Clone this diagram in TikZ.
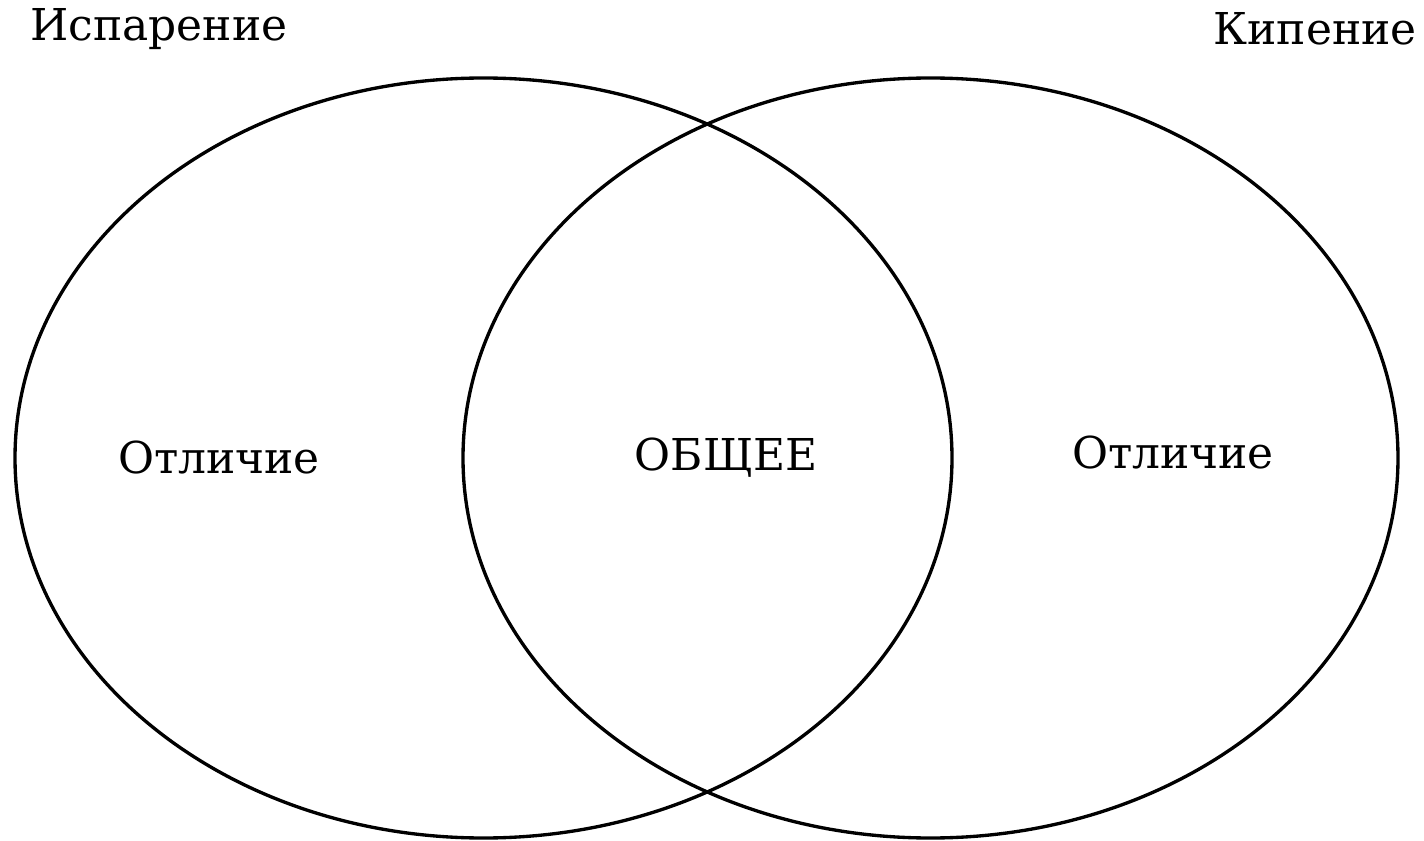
\documentclass[tikz,border=0pt]{standalone}
\usepackage{fontspec}
\setmainfont{DejaVu Serif}
\usepackage{tikz}
\usetikzlibrary{positioning}
\tikzset{
  ring/.style={line width=1.9pt},
  lbl/.style={inner sep=0pt,font=\fontsize{25}{30}\selectfont}
}

\begin{document}
\begin{tikzpicture}[x=0.02cm,y=-0.02cm]
  \useasboundingbox (0,0) rectangle (1424,841);

  % Two sets
  \draw[ring] (483.5,458) ellipse [x radius=468.5,y radius=380];
  \draw[ring] (930.5,458) ellipse [x radius=467.5,y radius=380];

  % Set titles
  \node[lbl] (isp) at (159,29) {Испарение};
  \node[lbl] (kip) at (1315,29) {Кипение};

  % Region labels
  \node[lbl] (otlL) at (219,458) {Отличие};
  \node[lbl] (obsh) at (726,458) {ОБЩЕЕ};
  \node[lbl] (otlR) at (1173,453) {Отличие};
\end{tikzpicture}
\end{document}
